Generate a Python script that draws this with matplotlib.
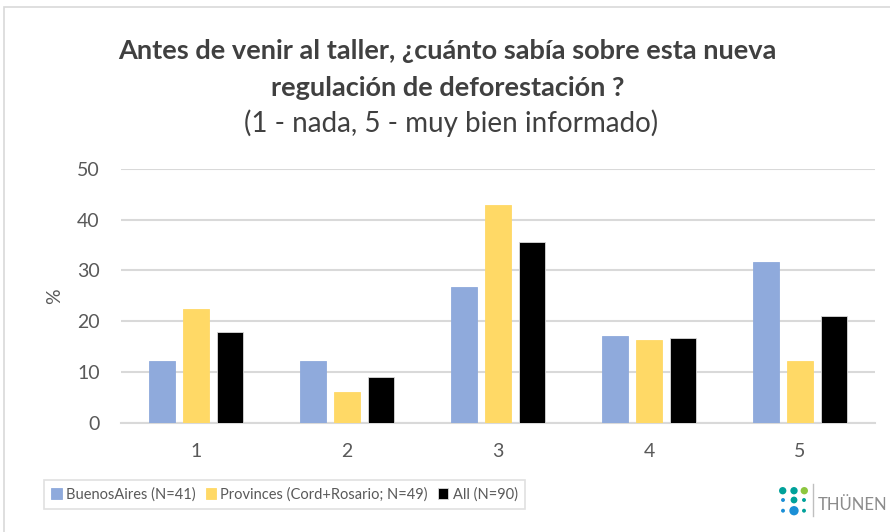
import matplotlib.pyplot as plt
from matplotlib.patches import Rectangle
import numpy as np

# categories (rating 1..5) and percentages per group
categories = ["1", "2", "3", "4", "5"]
buenos_aires = [12.2, 12.2, 26.8, 17.1, 31.7]
provinces = [22.4, 6.1, 42.9, 16.3, 12.2]
all_groups = [17.8, 8.9, 35.6, 16.7, 21.1]
series_labels = ["BuenosAires (N=41)", "Provinces (Cord+Rosario; N=49)", "All (N=90)"]
colors = ["#8faadc", "#ffd966", "#000000"]

plt.rcParams['font.family'] = ['Lato', 'DejaVu Sans']

fig = plt.figure(figsize=(8.9, 5.32), dpi=100)
ax = fig.add_axes([0.1354, 0.2058, 0.8483, 0.4765])

x = np.arange(len(categories))
width = 0.175
step = 0.224
for i, (vals, lab, col) in enumerate(zip([buenos_aires, provinces, all_groups], series_labels, colors)):
    ax.bar(x + (i - 1) * step, vals, width, color=col, label=lab,
           edgecolor="#d9d9d9" if i == 2 else col, linewidth=0.6, zorder=3)

ax.set_xlim(-0.5, 4.5)
ax.set_ylim(0, 50)
ax.set_yticks(range(0, 51, 10))
ax.set_xticks(x)
ax.set_xticklabels(categories)
ax.yaxis.grid(True, color="#d9d9d9", linewidth=1.5, zorder=0)
for s in ["top", "right", "left"]:
    ax.spines[s].set_visible(False)
ax.spines["bottom"].set_color("#d9d9d9")
ax.spines["bottom"].set_linewidth(1.5)
ax.tick_params(axis="both", length=0, labelsize=14, colors="#595959")
ax.tick_params(axis="x", pad=15)
ax.tick_params(axis="y", pad=15)
ax.set_ylabel("%", fontsize=14, color="#595959", labelpad=10)

# titles
fig.text(0.503, 0.905, "Antes de venir al taller, ¿cuánto sabía sobre esta nueva",
         ha="center", va="center", fontsize=19.5, fontweight="bold", color="#404040")
fig.text(0.503, 0.835, "regulación de deforestación ?",
         ha="center", va="center", fontsize=19.5, fontweight="bold", color="#404040")
fig.text(0.507, 0.768, "(1 - nada, 5 - muy bien informado)",
         ha="center", va="center", fontsize=20, color="#404040")

# chart frame
fig.patches.append(Rectangle((4 / 890, -0.05), 1.1, 1 - 7 / 532 + 0.05,
                             transform=fig.transFigure, fill=False,
                             edgecolor="#d9d9d9", linewidth=1.2))

leg = fig.legend(loc="center", bbox_to_anchor=(0.3197, 0.0705), ncol=3,
                 fontsize=10.5, frameon=True, fancybox=False, edgecolor="#d9d9d9",
                 handlelength=0.7, handleheight=0.7, handletextpad=0.3,
                 columnspacing=0.7, borderpad=0.5, labelcolor="#595959")
leg.get_frame().set_linewidth(1.2)

# logo
dots_x = [782.7, 794, 804.3, 783, 794, 804, 783, 794, 804]
dots_y = [490.7, 490.7, 490.7, 500, 500, 500, 510.7, 510.7, 510.7]
dots_s = [28, 28, 28, 8, 24, 8, 8, 45, 8]
dots_c = ["#00a19a", "#00a19a", "#8dc63f", "#1b8fd6", "#00a19a", "#00a19a",
          "#1b8fd6", "#1b8fd6", "#00a19a"]
fig.add_artist(plt.Line2D([813 / 890, 813 / 890], [1 - 516 / 532, 1 - 484 / 532],
                          color="#bfbfbf", linewidth=1))
fig.text(818 / 890, 1 - 505 / 532, "THÜNEN", ha="left", va="center",
         fontsize=12, color="#8c8c8c")
lax = fig.add_axes([0, 0, 1, 1], facecolor="none")
lax.set_xlim(0, 890)
lax.set_ylim(532, 0)
lax.axis("off")
lax.scatter(dots_x, dots_y, s=dots_s, c=dots_c, linewidths=0)

fig.savefig("out.png", dpi=100)
